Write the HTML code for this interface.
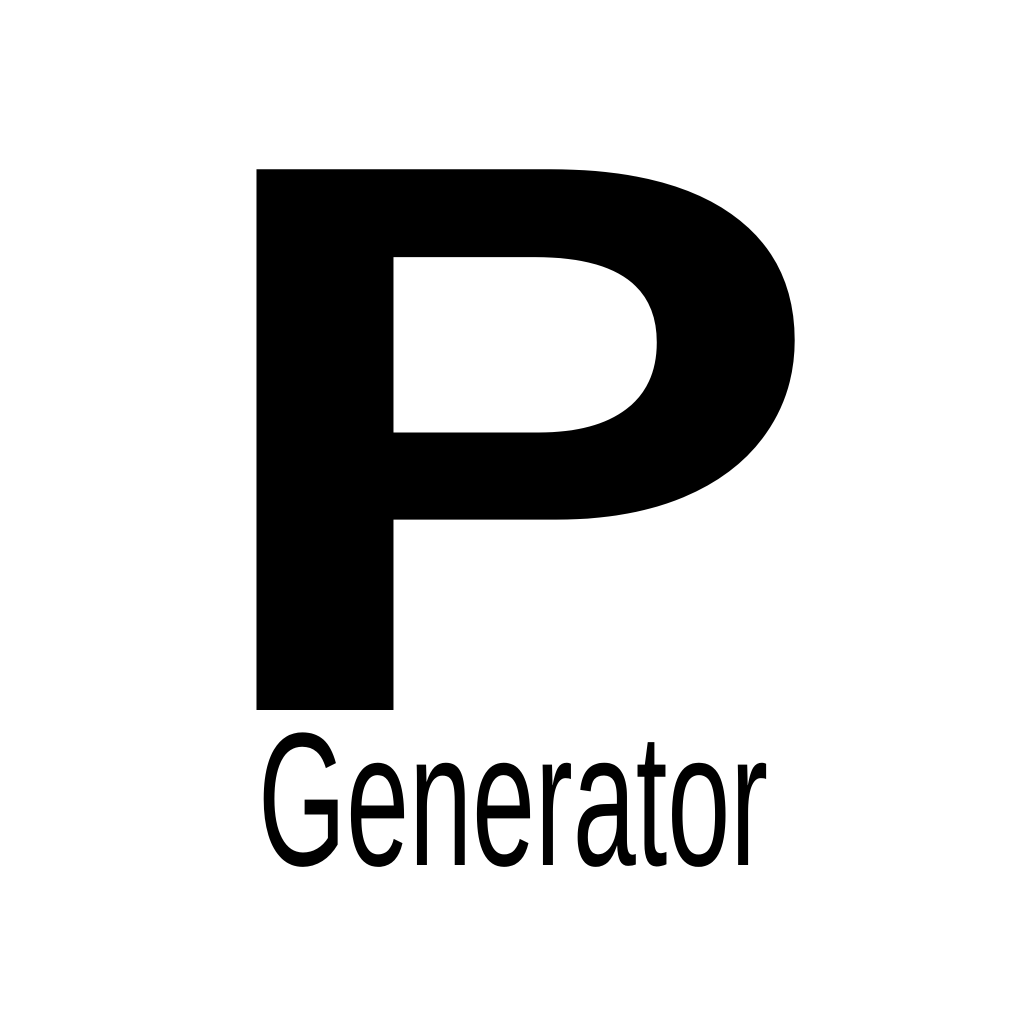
<!DOCTYPE html>
<html>
<head>
<meta charset="utf-8">
<style>
  html,body{margin:0;padding:0;background:#fff;}
  svg{display:block;}
</style>
</head>
<body>
<svg width="1024" height="1024" viewBox="0 0 1024 1024">
  <rect x="0" y="0" width="1024" height="1024" fill="#fff"/>
  <g transform="scale(1.21,1)">
    <text x="159.4" y="710" font-family="'Liberation Sans', sans-serif" font-weight="bold" font-size="786" fill="#000">P</text>
  </g>
  <text x="258" y="865" textLength="510" lengthAdjust="spacingAndGlyphs" font-family="'Liberation Sans Narrow', 'Liberation Sans', sans-serif" font-size="190" fill="#000">Generator</text>
</svg>
</body>
</html>
